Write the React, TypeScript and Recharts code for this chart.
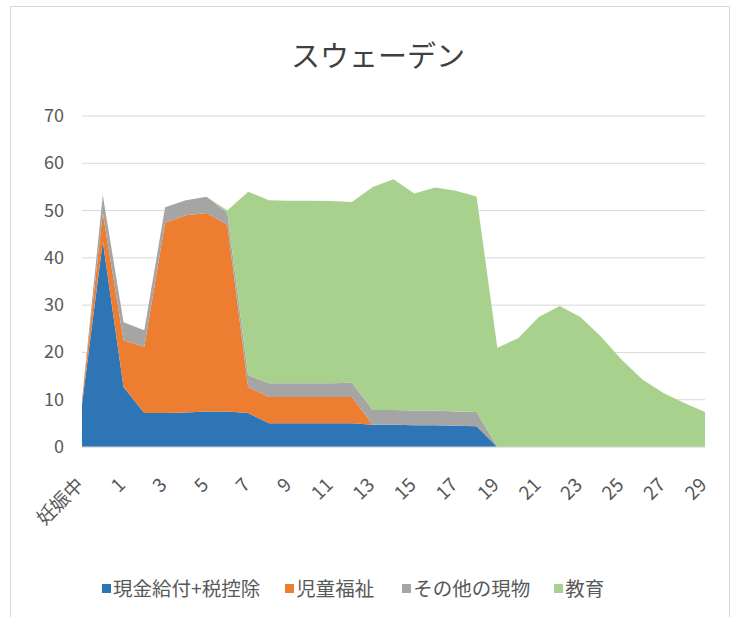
import { Area, AreaChart, CartesianGrid, XAxis, YAxis } from "recharts"

const categories = [
  "妊娠中", "0", "1", "2", "3", "4", "5", "6", "7", "8", "9", "10", "11", "12", "13", "14",
  "15", "16", "17", "18", "19", "20", "21", "22", "23", "24", "25", "26", "27", "28", "29",
]

// 現金給付+税控除
const cashBenefits = [
  9, 43.5, 12.7, 7.2, 7.2, 7.3, 7.5, 7.5, 7.2, 5, 5, 5, 5, 5, 4.7, 4.7,
  4.6, 4.6, 4.5, 4.4, 0, 0, 0, 0, 0, 0, 0, 0, 0, 0, 0,
]

// 児童福祉
const childWelfare = [
  1, 6, 9.9, 14, 40.2, 41.7, 42, 39.5, 5.5, 5.6, 5.6, 5.6, 5.6, 5.6, 0, 0,
  0, 0, 0, 0, 0, 0, 0, 0, 0, 0, 0, 0, 0, 0, 0,
]

// その他の現物
const otherInKind = [
  0, 3.8, 3.8, 3.5, 3.3, 3.2, 3.4, 2.5, 2.5, 2.9, 2.9, 2.9, 2.9, 3.0, 3.1, 3.1,
  3.1, 3.1, 3.0, 3.0, 0, 0, 0, 0, 0, 0, 0, 0, 0, 0, 0,
]

// 教育
const education = [
  0, 0, 0, 0, 0, 0, 0, 0.5, 38.8, 38.7, 38.6, 38.6, 38.5, 38.2, 47.2, 48.8,
  45.9, 47.2, 46.7, 45.6, 21, 23, 27.5, 29.8, 27.5, 23.3, 18.4, 14.2, 11.4, 9.3, 7.4,
]

const yTicks = [0, 10, 20, 30, 40, 50, 60, 70]

const seriesKeys = ["cash", "welfare", "other", "edu"]
const seriesNames = ["現金給付+税控除", "児童福祉", "その他の現物", "教育"]
const seriesColors = ["#2E75B6", "#ED7D31", "#A5A5A5", "#A9D18E"]
const legendGaps = [25, 28, 24, 0]

const data = categories.map((name, i) => ({
  name,
  cash: cashBenefits[i],
  welfare: childWelfare[i],
  other: otherInKind[i],
  edu: education[i],
}))

const FONT = '"Noto Sans CJK JP", "Noto Sans", sans-serif'
const TEXT = "#595959"

function XTick({ x, y, payload }: any) {
  const ax = x + 3
  const ay = y + 31
  return (
    <text x={ax} y={ay} textAnchor="end" transform={`rotate(-45, ${ax}, ${ay})`} fill={TEXT} fontSize={19} fontFamily={FONT}>
      {payload.value}
    </text>
  )
}

function YTick({ x, y, payload }: any) {
  return (
    <text x={x - 10} y={y + 6} textAnchor="end" fill={TEXT} fontSize={18} fontFamily={FONT}>
      {payload.value}
    </text>
  )
}

export default function App() {
  return (
    <div style={{ position: "absolute", left: 0, top: 0, width: 743, height: 626, background: "#fff", fontFamily: FONT }}>
      <div style={{ position: "absolute", left: 10, top: 6, width: 718, height: 610, borderLeft: "1px solid #d9d9d9", borderTop: "1px solid #d9d9d9", borderRight: "1px solid #d9d9d9" }} />
      <div style={{ position: "absolute", left: 0, top: 34, width: 756, textAlign: "center", fontSize: 29, color: "#404040", lineHeight: "40px" }}>
        スウェーデン
      </div>
      <AreaChart width={743} height={626} data={data} margin={{ top: 116, right: 38, bottom: 119, left: 42 }}>
        <CartesianGrid vertical={false} stroke="#d9d9d9" />
        <XAxis dataKey="name" interval={1} tick={<XTick />} tickLine={false} axisLine={{ stroke: "#d9d9d9" }} height={60} />
        <YAxis domain={[0, 70]} ticks={yTicks} tick={<YTick />} tickLine={false} axisLine={false} width={40} />
        {seriesKeys.map((k, i) => (
          <Area
            key={k}
            type="linear"
            dataKey={k}
            name={seriesNames[i]}
            stackId="1"
            stroke="none"
            fill={seriesColors[i]}
            fillOpacity={1}
            isAnimationActive={false}
          />
        ))}
      </AreaChart>
      <div style={{ position: "absolute", left: 102, top: 575, display: "flex" }}>
        {seriesNames.map((n, i) => (
          <div key={n} style={{ display: "flex", alignItems: "center", marginRight: legendGaps[i] }}>
            <span style={{ width: 9, height: 9, background: seriesColors[i], marginRight: 2 }} />
            <span style={{ fontSize: 19.5, color: TEXT, lineHeight: "26px" }}>{n}</span>
          </div>
        ))}
      </div>
    </div>
  )
}
